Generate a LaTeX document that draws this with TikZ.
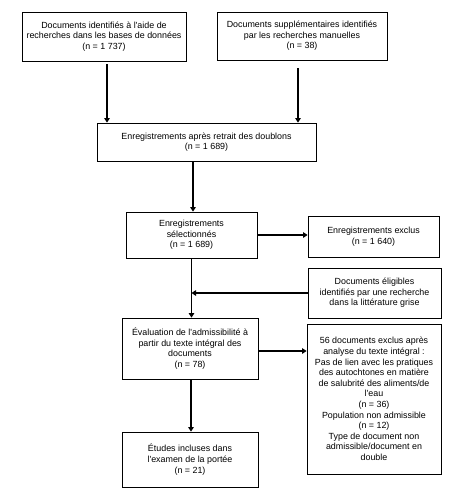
\documentclass[tikz,border=0pt]{standalone}
\usepackage{fontspec}
\setmainfont{Liberation Sans}
\usetikzlibrary{arrows.meta}
\tikzset{
  box/.style={draw=black, line width=0.8pt, align=center, inner sep=0pt, font=\fontsize{8.9}{10.6}\selectfont},
  arr/.style={line width=1.8pt, -{Triangle[length=4.5pt,width=5.5pt]}}
}
\newcommand{\q}{\textquotesingle}
\begin{document}
\begin{tikzpicture}[x=1pt,y=-1pt]
\useasboundingbox (0,0) rectangle (468,488);
\node[box, minimum width=164pt, minimum height=49pt] (A) at (104,36.5) {Documents identifiés à l\q aide de\\recherches dans les bases de données\\(n = 1 737)};
\node[box, minimum width=170pt, minimum height=48pt] (B) at (302,36) {Documents supplémentaires identifiés\\par les recherches manuelles\\(n = 38)};
\node[box, minimum width=219pt, minimum height=38pt] (C) at (206.5,142) {Enregistrements après retrait des doublons\\(n = 1 689)};
\node[box, minimum width=131pt, minimum height=46pt] (D) at (191.5,235) {Enregistrements\\sélectionnés\\(n = 1 689)};
\node[box, minimum width=131pt, minimum height=41pt] (E) at (373.5,236.5) {Enregistrements exclus\\(n = 1 640)};
\node[box, minimum width=133pt, minimum height=50pt] (F) at (374.5,293) {Documents éligibles\\identifiés par une recherche\\dans la littérature grise};
\node[box, minimum width=136pt, minimum height=61pt] (G) at (190,348.5) {Évaluation de l\q admissibilité à\\partir du texte intégral des\\documents\\(n = 78)};
\node[box, minimum width=134pt, minimum height=150pt] (H) at (374,399) {56 documents exclus après\\analyse du texte intégral :\\Pas de lien avec les pratiques\\des autochtones en matière\\de salubrité des aliments/de\\l\q eau\\(n = 36)\\Population non admissible\\(n = 12)\\Type de document non\\admissible/document en\\double};
\node[box, minimum width=136pt, minimum height=55pt] (I) at (190,459.5) {Études incluses dans\\l\q examen de la portée\\(n = 21)};
% arrows
\coordinate (a1) at ([xshift=3pt,yshift=-3pt]A.south);
\draw[arr] (a1) -- (a1 |- C.north);
\coordinate (b1) at ([xshift=-4pt,yshift=-8pt]B.south);
\draw[arr] (b1) -- (b1 |- C.north);
\coordinate (c1) at ([xshift=1.5pt]D.north);
\draw[arr] (c1 |- C.south) -- (c1);
\draw[arr] (D.east) -- (D.east -| E.west);
\coordinate (g1) at ([xshift=1.5pt]G.north);
\draw[arr] (g1 |- D.south) -- (g1);
\draw[arr] (F.west) -- (F.west -| g1);
\coordinate (g2) at ([yshift=-2.5pt]G.east);
\draw[arr] (g2) -- (g2 -| H.west);
\draw[arr] ([xshift=1pt]G.south) -- ([xshift=1pt]I.north);
\end{tikzpicture}
\end{document}
